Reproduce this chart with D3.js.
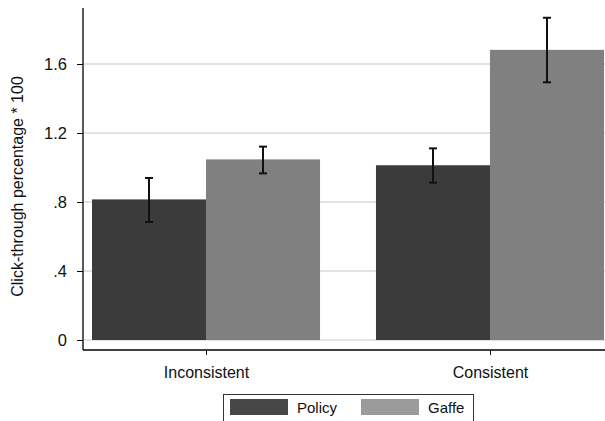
<!DOCTYPE html>
<html><head><meta charset="utf-8">
<script src="https://cdn.jsdelivr.net/npm/d3@7/dist/d3.min.js"></script>
<style>body{margin:0;background:#fff}svg{display:block;font-family:"Liberation Sans",Arial,sans-serif}</style>
</head><body><svg id="c" width="605" height="421"></svg>
<script>
const groups = ["Inconsistent", "Consistent"];
const seriesNames = ["Policy", "Gaffe"];
const means = [[0.815, 1.047], [1.013, 1.682]];
const lower = [[0.684, 0.966], [0.912, 1.494]];
const upper = [[0.939, 1.121], [1.111, 1.868]];
const yTicks = [0, 0.4, 0.8, 1.2, 1.6];
const yTickLabels = ["0", ".4", ".8", "1.2", "1.6"];
const barColors = ["#3b3b3b", "#808080"];
const legendColors = ["#474747", "#9b9b9b"];

const svg = d3.select("#c");
const y = d3.scaleLinear().domain([0, 1.6]).range([340, 64]);
const x0 = d3.scaleBand().domain(groups).range([83, 613]).paddingInner(0.197).paddingOuter(0.0317);
const x1 = d3.scaleBand().domain(seriesNames).range([0, x0.bandwidth()]);

// gridlines
svg.append("g").selectAll("line").data(yTicks).join("line")
  .attr("x1", 84).attr("x2", 605).attr("y1", d => y(d)).attr("y2", d => y(d))
  .attr("stroke", "#dadada").attr("stroke-width", 1.5);

// bars
const g = svg.append("g").selectAll("g").data(groups).join("g")
  .attr("transform", d => `translate(${x0(d)},0)`);
g.selectAll("rect").data((d, i) => seriesNames.map((s, j) => ({s, v: means[i][j]})))
  .join("rect")
  .attr("x", d => x1(d.s)).attr("width", x1.bandwidth())
  .attr("y", d => y(d.v)).attr("height", d => y(0) - y(d.v))
  .attr("fill", (d, j) => barColors[j]);

// error bars
const eb = [];
groups.forEach((gname, i) => seriesNames.forEach((s, j) => {
  eb.push({cx: x0(gname) + x1(s) + x1.bandwidth() / 2, lo: lower[i][j], hi: upper[i][j]});
}));
const ebg = svg.append("g").attr("stroke", "#111").attr("stroke-width", 2);
ebg.selectAll("line.v").data(eb).join("line").attr("class", "v")
  .attr("x1", d => d.cx).attr("x2", d => d.cx).attr("y1", d => y(d.lo)).attr("y2", d => y(d.hi));
ebg.selectAll("line.t").data(eb).join("line").attr("class", "t")
  .attr("x1", d => d.cx - 4).attr("x2", d => d.cx + 4).attr("y1", d => y(d.hi)).attr("y2", d => y(d.hi));
ebg.selectAll("line.b").data(eb).join("line").attr("class", "b")
  .attr("x1", d => d.cx - 4).attr("x2", d => d.cx + 4).attr("y1", d => y(d.lo)).attr("y2", d => y(d.lo));

// y axis
const yAxis = d3.axisLeft(y).tickValues(yTicks).tickFormat((d, i) => yTickLabels[i]).tickSize(6).tickPadding(10);
const ya = svg.append("g").attr("transform", "translate(83,0)").call(yAxis);
ya.select(".domain").attr("d", "M0,8V350").attr("stroke", "#000").attr("stroke-width", 1.3);
ya.selectAll(".tick line").attr("stroke", "#000");
ya.selectAll("text").attr("font-size", 16.5).attr("fill", "#111").attr("font-family", "Liberation Sans, Arial, sans-serif");

// x axis
const xAxis = d3.axisBottom(d3.scalePoint().domain(groups).range([x0("Inconsistent") + x0.bandwidth()/2, x0("Consistent") + x0.bandwidth()/2]))
  .tickSize(5).tickPadding(12);
const xa = svg.append("g").attr("transform", "translate(0,350)").call(xAxis);
xa.select(".domain").remove();
xa.append("line").attr("x1", 83).attr("x2", 605).attr("y1", 0).attr("y2", 0).attr("stroke", "#000").attr("stroke-width", 1.3);
xa.selectAll(".tick line").attr("stroke", "#000");
xa.selectAll("text").attr("font-size", 16).attr("fill", "#111").attr("font-family", "Liberation Sans, Arial, sans-serif");

// y label
svg.append("text").attr("transform", "translate(22.5,186.5) rotate(-90)")
  .attr("text-anchor", "middle").attr("font-size", 16).attr("fill", "#111")
  .text("Click-through percentage * 100");

// legend
const lg = svg.append("g");
lg.append("rect").attr("x", 223.5).attr("y", 394.5).attr("width", 250).attr("height", 40)
  .attr("fill", "#fff").attr("stroke", "#333").attr("stroke-width", 1);
const li = lg.selectAll("g").data(seriesNames).join("g")
  .attr("transform", (d, i) => `translate(${i === 0 ? 230 : 361},399)`);
li.append("rect").attr("width", 58).attr("height", 16).attr("fill", (d, i) => legendColors[i]);
li.append("text").attr("x", 67).attr("y", 13.5).attr("font-size", 15).attr("fill", "#111").text(d => d);
</script></body></html>
